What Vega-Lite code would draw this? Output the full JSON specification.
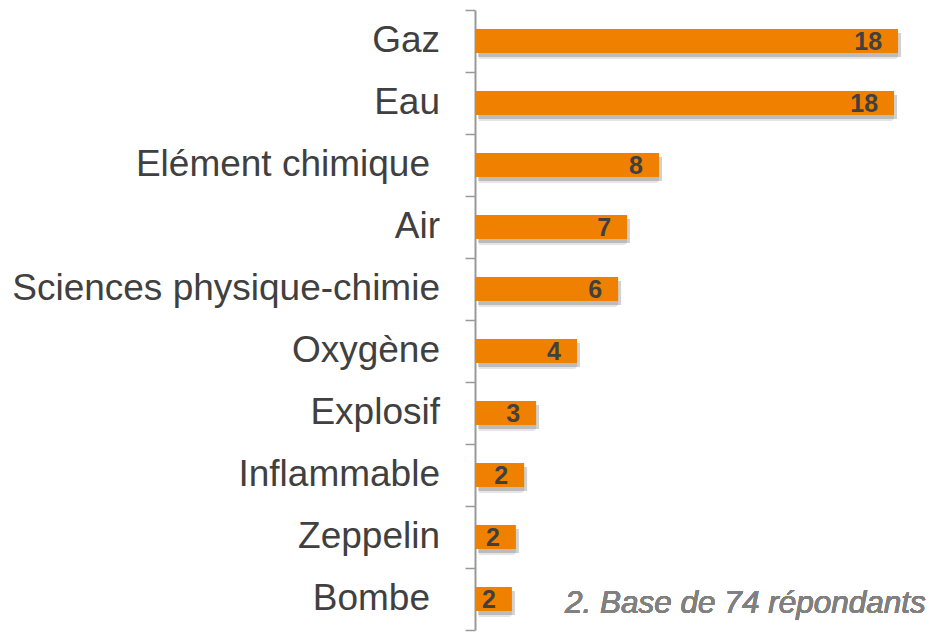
{
  "$schema": "https://vega.github.io/schema/vega-lite/v6.json",
  "autosize": "none",
  "width": 455,
  "height": 620,
  "padding": {"left": 475, "top": 10, "right": 0, "bottom": 6},
  "config": {"font": "Liberation Sans", "view": {"stroke": null}},
  "data": {"values": [
    {"cat": "Gaz", "value": 18.0, "label": "18"},
    {"cat": "Eau", "value": 17.83, "label": "18"},
    {"cat": "Elément chimique", "value": 7.83, "label": "8"},
    {"cat": "Air", "value": 6.47, "label": "7"},
    {"cat": "Sciences physique-chimie", "value": 6.09, "label": "6"},
    {"cat": "Oxygène", "value": 4.34, "label": "4"},
    {"cat": "Explosif", "value": 2.6, "label": "3"},
    {"cat": "Inflammable", "value": 2.09, "label": "2"},
    {"cat": "Zeppelin", "value": 1.74, "label": "2"},
    {"cat": "Bombe", "value": 1.57, "label": "2"}
  ]},
  "encoding": {
    "y": {"field": "cat", "type": "nominal", "sort": null,
      "scale": {"paddingInner": 0, "paddingOuter": 0},
      "axis": {"title": null, "labels": false,
        "tickSize": 10, "tickColor": "#999999", "tickWidth": 1.5, "tickBand": "extent",
        "domainColor": "#999999", "domainWidth": 2}},
    "x": {"field": "value", "type": "quantitative", "scale": {"domain": [0, 19.36]}, "axis": null}
  },
  "layer": [
    {"mark": {"type": "bar", "color": "#000000", "opacity": 0.1, "xOffset": 4, "yOffset": 6, "cornerRadius": 3, "height": {"band": 0.39}}},
    {"mark": {"type": "bar", "color": "#000000", "opacity": 0.18, "xOffset": 3, "yOffset": 4, "height": {"band": 0.39}}},
    {"mark": {"type": "bar", "color": "#F08000", "height": {"band": 0.39}}},
    {"mark": {"type": "text", "align": "right", "baseline": "middle", "dx": -16, "dy": 1, "fontSize": 25, "fontWeight": "bold", "color": "#404040"},
      "encoding": {"text": {"field": "label"}}},
    {"transform": [{"filter": "datum.cat != 'Elément chimique' && datum.cat != 'Bombe'"}],
      "mark": {"type": "text", "align": "right", "baseline": "middle", "dx": -35, "fontSize": 37, "color": "#404040"},
      "encoding": {"x": {"datum": 0}, "text": {"field": "cat"}}},
    {"transform": [{"filter": "datum.cat == 'Elément chimique' || datum.cat == 'Bombe'"}],
      "mark": {"type": "text", "align": "right", "baseline": "middle", "dx": -45, "fontSize": 37, "color": "#404040"},
      "encoding": {"x": {"datum": 0}, "text": {"field": "cat"}}},
    {"mark": {"type": "text", "align": "left", "baseline": "middle", "fontSize": 31.5, "fontStyle": "italic", "color": "#808080", "dy": 5},
      "encoding": {"x": {"datum": 3.83}, "y": {"datum": "Bombe"}, "text": {"value": "2. Base de 74 répondants"}}}
  ]
}
